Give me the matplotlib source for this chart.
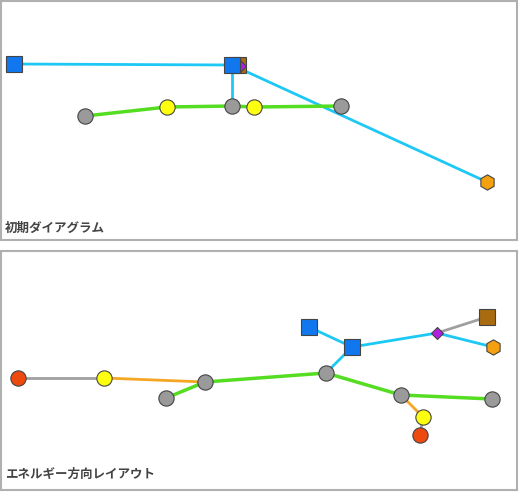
import matplotlib
matplotlib.use('Agg')
import matplotlib.pyplot as plt
from matplotlib.patches import Rectangle

plt.rcParams['font.family'] = ['Noto Sans CJK JP', 'DejaVu Sans']

# node data: (x, y, kind) in picture pixels
nodes_top = [(14, 64, 'sq'), (238, 65, 'brown'), (240, 66, 'dia'), (232, 65, 'sq'),
             (85, 116, 'gray'), (232, 106, 'gray'), (341, 106, 'gray'),
             (167, 107, 'yel'), (254, 107, 'yel'), (487, 182, 'hex')]
edges_top = [((14, 64), (232, 65), 'cyan'), ((232, 65), (232, 106), 'cyan'),
             ((232, 65), (487, 182), 'cyan'),
             ((85, 116), (167, 107), 'green'), ((167, 107), (232, 106), 'green'),
             ((232, 106), (254, 107), 'green'), ((254, 107), (341, 106), 'green')]

nodes_bot = [(18, 378, 'red'), (104, 378, 'yel'), (205, 382, 'gray'), (166, 398, 'gray'),
             (326, 373, 'gray'), (352, 347, 'sq'), (309, 327, 'sq'), (437, 333, 'dia'),
             (487, 317, 'brown'), (493, 347, 'hex'), (401, 395, 'gray'), (492, 399, 'gray'),
             (423, 417, 'yel'), (420, 435, 'red')]
edges_bot = [((18, 378), (104, 378), 'grayl'), ((104, 378), (205, 382), 'orange'),
             ((166, 398), (205, 382), 'green'), ((205, 382), (326, 373), 'green'),
             ((326, 373), (352, 347), 'cyan'), ((309, 327), (352, 347), 'cyan'),
             ((352, 347), (437, 333), 'cyan'), ((437, 333), (487, 317), 'grayl'),
             ((437, 333), (493, 347), 'cyan'), ((326, 373), (401, 395), 'green'),
             ((401, 395), (492, 399), 'green'), ((401, 395), (423, 417), 'orange'),
             ((423, 417), (420, 435), 'grayl')]

edge_style = {'cyan': ('#1ec8f5', 2), 'green': ('#55dd22', 2.5),
              'orange': ('#f5a623', 2), 'grayl': ('#a0a0a0', 2)}
node_style = {'sq': ('s', '#1177ee', 11), 'brown': ('s', '#a86b10', 11),
              'dia': ('D', '#b020e0', 6), 'gray': ('o', '#9a9a9a', 11),
              'yel': ('o', '#ffff10', 11), 'hex': ('h', '#f5a010', 11),
              'red': ('o', '#ee4a10', 11)}

fig = plt.figure(figsize=(5.19, 4.92), dpi=100)
ax = fig.add_axes([0, 0, 1, 1])
ax.set_xlim(0, 519)
ax.set_ylim(492, 0)
ax.axis('off')

for y0 in (1, 251):
    ax.add_patch(Rectangle((1, y0), 516, 239, fill=False, ec='#b0b0b0', lw=1.5))

for edges, nodes in ((edges_top, nodes_top), (edges_bot, nodes_bot)):
    for p, q, k in edges:
        c, w = edge_style[k]
        ax.plot([p[0], q[0]], [p[1], q[1]], color=c, lw=w, zorder=1)
    for x, y, k in nodes:
        m, c, s = node_style[k]
        ax.plot(x, y, marker=m, color=c, ms=s, mec='#444444', mew=0.8, zorder=2)

ax.text(5, 228, '初期ダイアグラム', fontsize=9, fontweight='bold', color='#444444', va='center')
ax.text(5, 474, 'エネルギー方向レイアウト', fontsize=9, fontweight='bold', color='#444444', va='center')

fig.savefig('out.png', dpi=100)
